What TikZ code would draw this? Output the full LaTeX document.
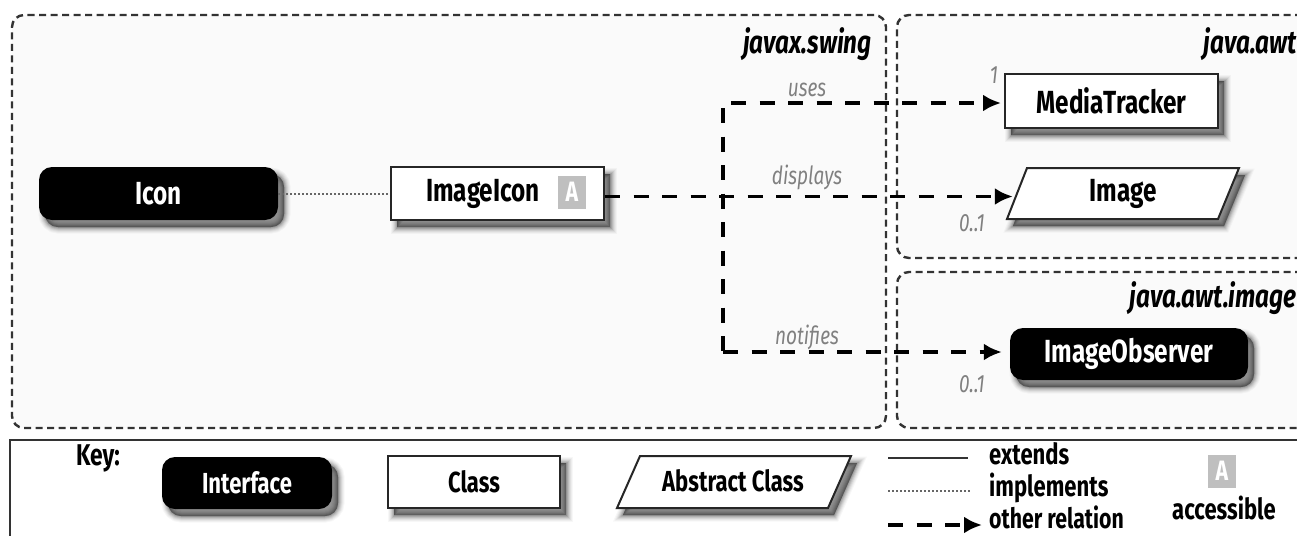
\documentclass[tikz,border=0pt]{standalone}
\usepackage{fontspec}
\setmainfont[FakeStretch=0.76]{Fira Sans}
\usetikzlibrary{shadows,arrows.meta}
\definecolor{panelbg}{gray}{0.98}
\tikzset{
  x=1pt,y=-1pt,
  softshadow/.style={
    general shadow={shadow xshift=6pt,shadow yshift=-7pt,draw=black,fill=black,line width=13pt,opacity=.03},
    general shadow={shadow xshift=6pt,shadow yshift=-7pt,draw=black,fill=black,line width=11pt,opacity=.04},
    general shadow={shadow xshift=6pt,shadow yshift=-7pt,draw=black,fill=black,line width=9pt,opacity=.05},
    general shadow={shadow xshift=6pt,shadow yshift=-7pt,draw=black,fill=black,line width=7pt,opacity=.07},
    general shadow={shadow xshift=6pt,shadow yshift=-7pt,draw=black,fill=black,line width=5pt,opacity=.09},
    general shadow={shadow xshift=6pt,shadow yshift=-7pt,draw=black,fill=black,line width=3pt,opacity=.11},
    general shadow={shadow xshift=6pt,shadow yshift=-7pt,draw=black,fill=black,line width=1pt,opacity=.13}},
  panel/.style={draw=black!80,fill=panelbg,dash pattern=on 7pt off 4.5pt,line width=2.4pt,rounded corners=12pt,inner sep=0pt},
  ifacebox/.style={softshadow,fill=black,rounded corners=13pt,text=white,font=\bfseries\fontsize{32}{32}\selectfont,inner sep=0pt},
  classbox/.style={softshadow,draw=black!85,fill=white,line width=2pt,font=\bfseries\fontsize{32}{32}\selectfont,inner sep=0pt},
  abstractbox/.style={softshadow,draw=black!85,fill=white,line width=2pt},
  plainlabel/.style={font=\bfseries\fontsize{32}{32}\selectfont,inner sep=0pt},
  keylabel/.style={font=\bfseries\fontsize{29}{29}\selectfont,inner sep=0pt},
  pkglabel/.style={font=\bfseries\itshape\fontsize{32}{32}\selectfont,inner sep=0pt},
  rellabel/.style={font=\itshape\fontsize{25}{25}\selectfont,text=black!50,inner sep=0pt},
  accbox/.style={fill=black!25,text=white,font=\bfseries\fontsize{28}{28}\selectfont,inner sep=0pt,minimum width=28pt,minimum height=33pt},
  relation/.style={draw=black,line width=3.6pt,dash pattern=on 15pt off 13.5pt},
  relarrow/.style={relation,-{Latex[length=18pt,width=17pt]}},
  implementsline/.style={draw=black!60,line width=2pt,dash pattern=on 2pt off 2pt},
  extendsline/.style={draw=black!80,line width=2pt},
}
\begin{document}
\begin{tikzpicture}
\clip (0,0) rectangle (1297,535);
\fill[white] (0,0) rectangle (1297,535);
% package panels
\node[panel,minimum width=874pt,minimum height=413pt] (swing) at (449,221.5) {};
\node[panel,minimum width=440pt,minimum height=243pt] (awt) at (1117,136.5) {};
\node[panel,minimum width=440pt,minimum height=156pt] (awtimage) at (1117,350) {};
\node[pkglabel,anchor=east] (swinglabel) at (872,44) {javax.swing};
\node[pkglabel,anchor=east] (awtlabel) at (1297,44) {java.awt};
\node[pkglabel,anchor=east] (awtimagelabel) at (1297,298) {java.awt.image};
% key box
\node[draw=black!80,line width=2pt,fill=white,minimum width=1340pt,minimum height=140pt,inner sep=0pt] (keybox) at (680,510) {};
% classes
\node[ifacebox,minimum width=239pt,minimum height=53pt] (icon) at (158.5,193.5) {Icon};
\node[classbox,minimum width=213pt,minimum height=53pt] (imageicon) at (497.5,193.5) {};
\node[plainlabel] (imageiconlabel) at (483,194) {ImageIcon};
\node[accbox] (acc) at (572,192) {A};
\node[classbox,minimum width=213pt,minimum height=54pt] (media) at (1111.5,101) {MediaTracker};
\draw[abstractbox] (1027,168) -- (1239,168) -- (1218,219) -- (1007,219) -- cycle;
\node[plainlabel,minimum width=220pt,minimum height=51pt] (image) at (1123,193.5) {Image};
\node[ifacebox,minimum width=238pt,minimum height=52pt] (observer) at (1129,354) {ImageObserver};
% connectors
\draw[implementsline] (icon.east) -- (imageicon.west);
\coordinate (trunktop) at (723,103);
\coordinate (trunkbottom) at (723,352);
\draw[relation,shorten <=5pt] (trunktop) -- (trunkbottom);
\draw[relarrow,shorten <=8pt,shorten >=3pt] (trunktop) -- (trunktop -| media.west);
\draw[relarrow] ([yshift=-3pt]imageicon.east) -- ([yshift=-3pt]image.west);
\draw[relarrow,shorten >=8pt] (trunkbottom) -- (trunkbottom -| observer.west);
\node[rellabel] (uses) at (807,90) {uses};
\node[rellabel] (displays) at (807,177) {displays};
\node[rellabel] (notifies) at (807,337) {notifies};
\node[rellabel] (one) at (994,75) {1};
\node[rellabel] (imagemult) at (972,223) {0..1};
\node[rellabel] (observermult) at (972,384) {0..1};
% key
\node[keylabel,font=\bfseries\fontsize{30}{30}\selectfont] (keytitle) at (98,458) {Key:};
\node[ifacebox,minimum width=170pt,minimum height=52pt,font=\bfseries\fontsize{29}{29}\selectfont] (keyiface) at (247,483) {Interface};
\node[classbox,minimum width=172pt,minimum height=52pt,font=\bfseries\fontsize{29}{29}\selectfont] (keyclass) at (474,482) {Class};
\draw[abstractbox] (640,456) -- (851,456) -- (828,508) -- (617,508) -- cycle;
\node[keylabel] (keyabstract) at (733,481) {Abstract Class};
\coordinate (extA) at (888,458); \coordinate (extB) at (968,458);
\draw[extendsline] (extA) -- (extB);
\coordinate (impA) at (888,491); \coordinate (impB) at (970,491);
\draw[implementsline] (impA) -- (impB);
\coordinate (othA) at (888,525); \coordinate (othB) at (982,525);
\draw[relarrow] (othA) -- (othB);
\node[keylabel,anchor=base west] (extendstext) at (989,464) {extends};
\node[keylabel,anchor=base west] (implementstext) at (989,496) {implements};
\node[keylabel,anchor=base west,font=\bfseries\fontsize{28}{28}\selectfont] (othertext) at (989,528) {other relation};
\node[accbox] (keyacc) at (1222,471) {A};
\node[keylabel,anchor=base] (accessible) at (1224,519) {accessible};
\end{tikzpicture}
\end{document}
